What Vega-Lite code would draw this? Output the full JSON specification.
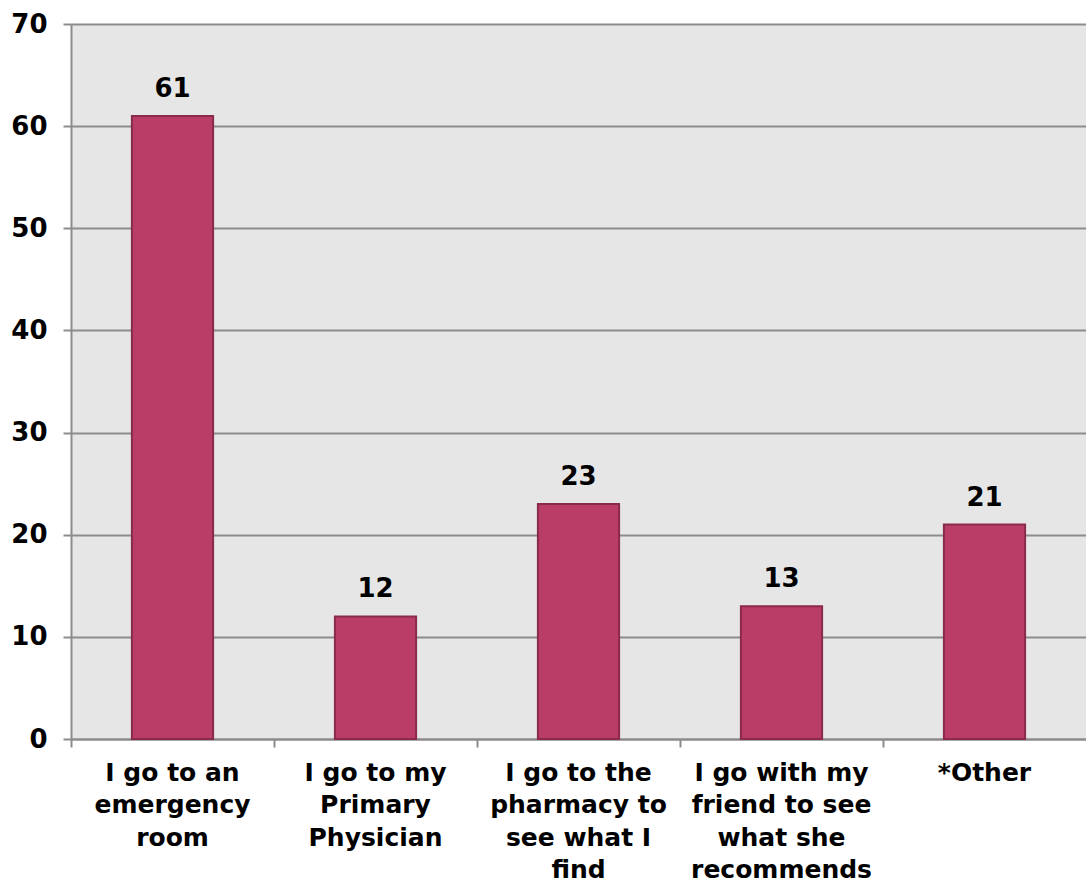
{
  "$schema": "https://vega.github.io/schema/vega-lite/v6.json",
  "width": 1015,
  "height": 715,
  "autosize": "none",
  "padding": {"left": 71, "top": 24, "right": 0, "bottom": 147},
  "background": "white",
  "config": {
    "view": {"fill": "#E6E6E6", "stroke": null},
    "font": "DejaVu Sans"
  },
  "data": {
    "values": [
      {"category": "I go to an|emergency|room", "value": 61},
      {"category": "I go to my|Primary|Physician", "value": 12},
      {"category": "I go to the|pharmacy to|see what I|find", "value": 23},
      {"category": "I go with my|friend to see|what she|recommends", "value": 13},
      {"category": "*Other", "value": 21}
    ]
  },
  "resolve": {"axis": {"x": "independent"}},
  "layer": [
    {
      "mark": {"type": "bar", "fill": "#B93D67", "stroke": "#8A2A4C", "strokeWidth": 2},
      "encoding": {
        "x": {
          "field": "category",
          "type": "nominal",
          "sort": null,
          "scale": {"paddingInner": 0.6, "paddingOuter": 0.3},
          "axis": {
            "orient": "bottom",
            "title": null,
            "labels": false,
            "domainColor": "#8C8C8C",
            "domainWidth": 2,
            "tickColor": "#8C8C8C",
            "tickWidth": 2,
            "tickSize": 8,
            "tickOffset": -101.5,
            "grid": false
          }
        },
        "y": {
          "field": "value",
          "type": "quantitative",
          "scale": {"domain": [0, 70]},
          "axis": {
            "title": null,
            "values": [0, 10, 20, 30, 40, 50, 60, 70],
            "labelFont": "DejaVu Sans",
            "labelFontWeight": "bold",
            "labelFontSize": 26,
            "labelColor": "#000000",
            "labelPadding": 16,
            "domainColor": "#8C8C8C",
            "domainWidth": 2,
            "tickColor": "#8C8C8C",
            "tickWidth": 2,
            "tickSize": 8,
            "gridColor": "#8C8C8C",
            "gridWidth": 2,
            "gridOpacity": 1
          }
        }
      }
    },
    {
      "mark": {
        "type": "text",
        "dy": -27,
        "font": "DejaVu Sans",
        "fontWeight": "bold",
        "fontSize": 26,
        "color": "#000000"
      },
      "encoding": {
        "x": {
          "field": "category",
          "type": "nominal",
          "sort": null,
          "axis": {
            "orient": "bottom",
            "title": null,
            "labelAngle": 0,
            "labelExpr": "split(datum.label, '|')",
            "labelFont": "DejaVu Sans",
            "labelFontWeight": "bold",
            "labelFontSize": 25,
            "labelColor": "#000000",
            "labelLineHeight": 32.5,
            "labelPadding": 21,
            "labelLimit": 250,
            "labelBaseline": "top",
            "domain": false,
            "ticks": false,
            "grid": false
          }
        },
        "y": {"field": "value", "type": "quantitative"},
        "text": {"field": "value", "type": "quantitative"}
      }
    }
  ]
}
